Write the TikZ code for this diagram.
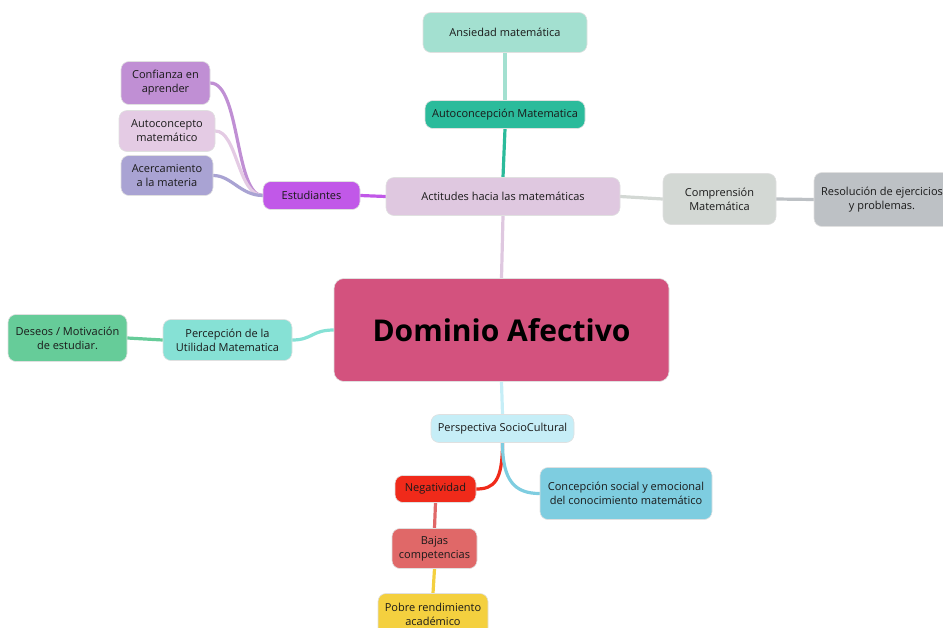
\documentclass[tikz,border=0pt]{standalone}
\usepackage{fontspec}
\setmainfont{Open Sans}
\usetikzlibrary{backgrounds}
\definecolor{cAns}{HTML}{A3E0D0}
\definecolor{cAuto}{HTML}{2BBB9B}
\definecolor{cAct}{HTML}{DFC8E0}
\definecolor{cStu}{HTML}{C158E8}
\definecolor{cConf}{HTML}{C08FD4}
\definecolor{cAutom}{HTML}{E4CBE4}
\definecolor{cAcer}{HTML}{A9A3D3}
\definecolor{cComp}{HTML}{D3D8D4}
\definecolor{cRes}{HTML}{BDC1C5}
\definecolor{cDom}{HTML}{D3527E}
\definecolor{cPerc}{HTML}{86E1D5}
\definecolor{cDes}{HTML}{66CC99}
\definecolor{cPersp}{HTML}{C6EEF7}
\definecolor{cNeg}{HTML}{F02A1A}
\definecolor{cConc}{HTML}{7ECDE0}
\definecolor{cBaj}{HTML}{E06868}
\definecolor{cPob}{HTML}{F4D03F}
\definecolor{cTxt}{HTML}{1A1A1A}
\tikzset{
  topic/.style={rectangle, rounded corners=8pt, draw=black!12, line width=0.6pt,
    fill=#1, text=cTxt, align=center, inner sep=2pt,
    font=\fontsize{11}{14}\selectfont},
  link/.style={draw=#1, line width=3.2pt, line cap=round},
}
\begin{document}
\begin{tikzpicture}[x=1pt,y=-1pt]
\useasboundingbox (0,0) rectangle (943,627);
\clip (0,0) rectangle (943,627);

\node[topic=cAns, minimum width=164pt, minimum height=40pt] (ans) at (505,32.5) {Ansiedad matemática};
\node[topic=cAuto, minimum width=160pt, minimum height=28pt] (auto) at (505,114.5) {Autoconcepción Matematica};
\node[topic=cAct, minimum width=234pt, minimum height=38pt] (act) at (503,196.5) {Actitudes hacia las matemáticas};
\node[topic=cStu, minimum width=97pt, minimum height=28pt] (stu) at (311.5,195.5) {Estudiantes};
\node[topic=cConf, minimum width=89pt, minimum height=43pt] (conf) at (165.5,83) {Confianza en\\aprender};
\node[topic=cAutom, minimum width=96pt, minimum height=41pt] (autom) at (167,131) {Autoconcepto\\matemático};
\node[topic=cAcer, minimum width=92pt, minimum height=40pt] (acer) at (167,175.5) {Acercamiento\\a la materia};
\node[topic=cComp, minimum width=113pt, minimum height=51pt] (comp) at (719.5,199) {Comprensión\\Matemática};
\node[topic=cRes, minimum width=136pt, minimum height=54pt] (res) at (882,199.5) {Resolución de ejercicios\\y problemas.};
\node[topic=cDom, rounded corners=10pt, minimum width=335pt, minimum height=103pt,
  font=\fontsize{30}{34}\selectfont\bfseries, text=black] (dom) at (501.5,330) {Dominio Afectivo};
\node[topic=cPerc, minimum width=129pt, minimum height=41pt] (perc) at (227.5,340) {Percepción de la\\Utilidad Matematica};
\node[topic=cDes, minimum width=119pt, minimum height=47pt] (des) at (67.5,338) {Deseos / Motivación\\de estudiar.};
\node[topic=cPersp, minimum width=143pt, minimum height=28pt] (persp) at (502.5,428.5) {Perspectiva SocioCultural};
\node[topic=cNeg, minimum width=81pt, minimum height=27pt] (neg) at (435.5,489) {Negatividad};
\node[topic=cConc, minimum width=172pt, minimum height=52pt] (conc) at (626,493.5) {Concepción social y emocional\\del conocimiento matemático};
\node[topic=cBaj, minimum width=85pt, minimum height=40pt] (baj) at (434.5,548.5) {Bajas\\competencias};
\node[topic=cPob, minimum width=110pt, minimum height=42pt] (pob) at (433,614.5) {Pobre rendimiento\\académico};

\begin{scope}[on background layer]
\draw[link=cAct] (dom.north) -- (act.south);
\draw[link=cAuto] (act.north) -- (auto.south);
\draw[link=cAns] (auto.north) -- (ans.south);
\draw[link=cStu] (act.west) -- (stu.east);
\draw[link=cConf] (stu.west) .. controls +(-28,0) and +(30,0) .. (conf.east);
\draw[link=cAutom] (stu.west) .. controls +(-25,0) and +(22,0) .. (autom.east);
\draw[link=cAcer] (stu.west) .. controls +(-22,0) and +(18,0) .. (acer.east);
\draw[link=cComp] (act.east) -- (comp.west);
\draw[link=cRes] (comp.east) -- (res.west);
\draw[link=cPerc] (dom.west) .. controls +(-22,0) and +(20,0) .. (perc.east);
\draw[link=cDes] (perc.west) -- (des.east);
\draw[link=cPersp] (dom.south) -- (persp.north);
\draw[link=cNeg] (persp.south) .. controls +(0,38) and +(18,0) .. (neg.east);
\draw[link=cConc] (persp.south) .. controls +(0,38) and +(-25,0) .. (conc.west);
\draw[link=cBaj] (neg.south) -- (baj.north);
\draw[link=cPob] (baj.south) -- (pob.north);
\end{scope}
\end{tikzpicture}
\end{document}
